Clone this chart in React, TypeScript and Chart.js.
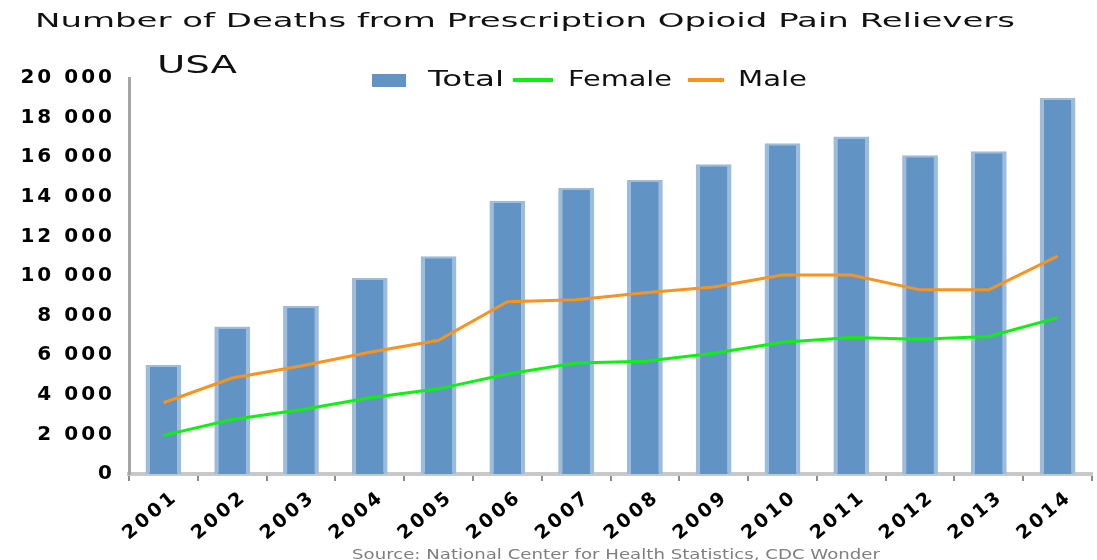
import React, { useEffect, useRef } from "react";
import { Chart, registerables } from "chart.js";

Chart.register(...registerables);

const chartTitle = "Number of Deaths from Prescription Opioid Pain Relievers";
const regionLabel = "USA";
const sourceNote = "Source: National Center for Health Statistics, CDC Wonder";

const years = ["2001", "2002", "2003", "2004", "2005", "2006", "2007", "2008", "2009", "2010", "2011", "2012", "2013", "2014"];
const totalDeaths = [5500, 7450, 8500, 9900, 11000, 13800, 14450, 14850, 15650, 16700, 17050, 16100, 16300, 19000];
const femaleDeaths = [1950, 2750, 3250, 3850, 4300, 5050, 5600, 5700, 6100, 6650, 6900, 6800, 6950, 7900];
const maleDeaths = [3600, 4850, 5450, 6150, 6750, 8700, 8800, 9150, 9450, 10050, 10050, 9300, 9300, 11000];
const yTickValues = [0, 2000, 4000, 6000, 8000, 10000, 12000, 14000, 16000, 18000, 20000];

const seriesNames = ["Total", "Female", "Male"];
const BAR_FILL = "#6194c5";
const BAR_EDGE = "#9dbcdc";
const FEMALE_COLOR = "#10f010";
const MALE_COLOR = "#f7931e";

const FONT = "'DejaVu Sans', sans-serif";

function fmt(v: number): string {
  return String(v).replace(/\B(?=(\d{3})+(?!\d))/g, " ");
}

function drawFit(ctx: CanvasRenderingContext2D, text: string, x: number, y: number, w: number, font: string, color: string, baseline: CanvasTextBaseline) {
  ctx.save();
  (ctx as any).letterSpacing = "0px";
  ctx.font = font;
  const natural = ctx.measureText(text).width;
  ctx.translate(x, y);
  ctx.scale(w / natural, 1);
  ctx.fillStyle = color;
  ctx.textAlign = "left";
  ctx.textBaseline = baseline;
  ctx.fillText(text, 0, 0);
  ctx.restore();
}

const textPlugin = {
  id: "textPlugin",
  beforeDraw(chart: any) {
    chart.ctx.letterSpacing = "3px";
  },
  afterDatasetsDraw(chart: any) {
    chart.ctx.letterSpacing = "3px";
  },
  afterDraw(chart: any) {
    const ctx: CanvasRenderingContext2D = chart.ctx;
    (ctx as any).letterSpacing = "0px";
    drawFit(ctx, chartTitle, 35, 22, 980, `20px ${FONT}`, "#111", "middle");
    drawFit(ctx, regionLabel, 157, 67, 80, `24px ${FONT}`, "#111", "middle");
    // legend
    ctx.save();
    ctx.fillStyle = BAR_FILL;
    ctx.fillRect(372, 74, 34, 13);
    ctx.lineWidth = 4;
    ctx.strokeStyle = FEMALE_COLOR;
    ctx.beginPath();
    ctx.moveTo(513, 80);
    ctx.lineTo(553, 80);
    ctx.stroke();
    ctx.strokeStyle = MALE_COLOR;
    ctx.beginPath();
    ctx.moveTo(688, 80);
    ctx.lineTo(724, 80);
    ctx.stroke();
    ctx.restore();
    drawFit(ctx, seriesNames[0], 428, 81, 76, `21px ${FONT}`, "#111", "middle");
    drawFit(ctx, seriesNames[1], 568, 81, 104, `21px ${FONT}`, "#111", "middle");
    drawFit(ctx, seriesNames[2], 738, 81, 69, `21px ${FONT}`, "#111", "middle");
    drawFit(ctx, sourceNote, 352, 548, 528, `14px ${FONT}`, "#7f7f7f", "top");
  },
};

export default function App() {
  const ref = useRef<HTMLCanvasElement | null>(null);
  useEffect(() => {
    if (!ref.current) return;
    const chart = new Chart(ref.current, {
      type: "bar",
      data: {
        labels: years,
        datasets: [
          {
            type: "line",
            label: seriesNames[1],
            data: femaleDeaths,
            borderColor: FEMALE_COLOR,
            backgroundColor: FEMALE_COLOR,
            borderWidth: 3,
            pointRadius: 0,
            tension: 0,
            order: 0,
          } as any,
          {
            type: "line",
            label: seriesNames[2],
            data: maleDeaths,
            borderColor: MALE_COLOR,
            backgroundColor: MALE_COLOR,
            borderWidth: 3,
            pointRadius: 0,
            tension: 0,
            order: 0,
          } as any,
          {
            type: "bar",
            label: seriesNames[0],
            data: totalDeaths,
            backgroundColor: BAR_FILL,
            borderColor: BAR_EDGE,
            borderWidth: { left: 4, right: 4, top: 2, bottom: 0 },
            borderSkipped: false,
            barPercentage: 0.52,
            categoryPercentage: 1,
            order: 1,
          } as any,
        ],
      },
      options: {
        animation: false,
        responsive: false,
        devicePixelRatio: 1,
        layout: { padding: { top: 78, right: 5, left: 0, bottom: 0 } },
        plugins: {
          legend: { display: false },
          title: { display: false },
          tooltip: { enabled: false },
        },
        scales: {
          x: {
            z: 1,
            grid: {
              display: true,
              drawOnChartArea: false,
              drawTicks: true,
              tickLength: 7,
              color: "#8c8c8c",
              lineWidth: 2,
              offset: true,
            },
            border: { display: true, color: "#c8c8c8", width: 4 },
            ticks: {
              minRotation: 40,
              maxRotation: 40,
              autoSkip: false,
              padding: 5,
              labelOffset: 12,
              color: "#000",
              font: { family: FONT, size: 19, weight: "bold" },
            },
            afterFit(scale: any) {
              scale.height = 86;
            },
          },
          y: {
            min: 0,
            max: 20000,
            grid: { display: false },
            border: { display: true, color: "#a6a6a6", width: 3 },
            afterBuildTicks(scale: any) {
              scale.ticks = yTickValues.map((v) => ({ value: v }));
            },
            ticks: {
              padding: 6,
              color: "#000",
              font: { family: FONT, size: 20, weight: "bold" },
              callback: (v: any) => fmt(Number(v)),
            },
            afterFit(scale: any) {
              scale.width = 129;
            },
          },
        },
      },
      plugins: [textPlugin],
    });
    return () => chart.destroy();
  }, []);
  return (
    <div style={{ position: "absolute", left: 0, top: 0, width: 1097, height: 560, background: "#fff" }}>
      <canvas ref={ref} width={1097} height={560} style={{ display: "block" }} />
    </div>
  );
}
